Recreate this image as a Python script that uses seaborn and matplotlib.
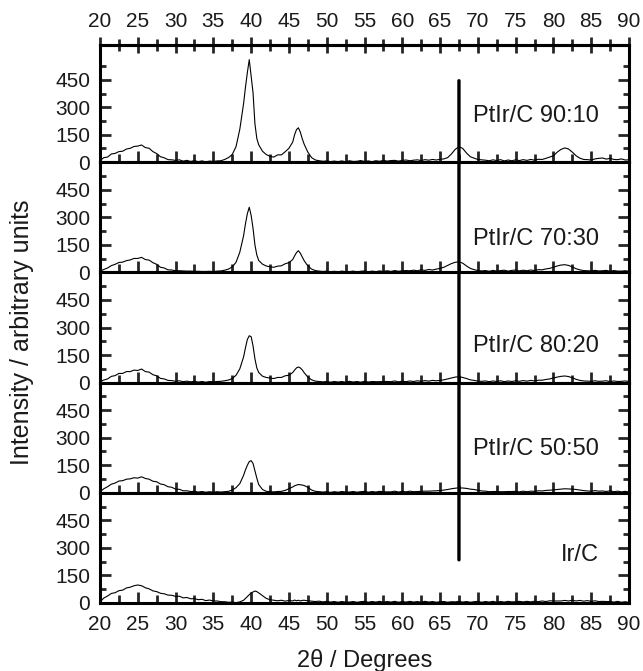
import numpy as np
import pandas as pd
import seaborn as sns
import matplotlib.pyplot as plt
from matplotlib.patches import ConnectionPatch
from matplotlib.ticker import MultipleLocator, FixedLocator

# 2theta positions (degrees), shared by all patterns
two_theta = [
    20.0, 20.5, 21.0, 21.5, 22.0, 22.5, 23.0, 23.5, 24.0, 24.5,
    25.0, 25.5, 26.0, 26.5, 27.0, 27.5, 28.0, 28.5, 29.0, 29.5,
    30.0, 30.5, 31.0, 31.5, 32.0, 32.5, 33.0, 33.5, 34.0, 34.5,
    35.0, 35.5, 36.0, 36.5, 37.0, 37.5, 38.0, 38.5, 39.0, 39.25,
    39.5, 39.75, 40.0, 40.25, 40.5, 40.75, 41.0, 41.5, 42.0, 42.5,
    43.0, 43.5, 44.0, 44.5, 45.0, 45.5, 45.75, 46.0, 46.25, 46.5,
    46.75, 47.0, 47.5, 48.0, 48.5, 49.0, 49.5, 50.0, 50.5, 51.0,
    51.5, 52.0, 52.5, 53.0, 53.5, 54.0, 54.5, 55.0, 55.5, 56.0,
    56.5, 57.0, 57.5, 58.0, 58.5, 59.0, 59.5, 60.0, 60.5, 61.0,
    61.5, 62.0, 62.5, 63.0, 63.5, 64.0, 64.5, 65.0, 65.5, 66.0,
    66.5, 67.0, 67.5, 68.0, 68.5, 69.0, 69.5, 70.0, 70.5, 71.0,
    71.5, 72.0, 72.5, 73.0, 73.5, 74.0, 74.5, 75.0, 75.5, 76.0,
    76.5, 77.0, 77.5, 78.0, 78.5, 79.0, 79.5, 80.0, 80.5, 81.0,
    81.5, 82.0, 82.5, 83.0, 83.5, 84.0, 84.5, 85.0, 85.5, 86.0,
    86.5, 87.0, 87.5, 88.0, 88.5, 89.0, 89.5, 90.0]

ptir_90_10 = [
    8, 25, 28, 45, 48, 58, 60, 72, 76, 86,
    88, 94, 80, 76, 58, 47, 30, 24, 14, 13,
    10, 13, 6, 10, 4, 9, 3, 7, 2, 6,
    4, 7, 8, 15, 25, 42, 85, 180, 320, 410,
    490, 560, 470, 380, 210, 130, 95, 60, 42, 32,
    28, 40, 40, 57, 76, 110, 150, 178, 188, 165,
    130, 100, 55, 25, 12, 8, 5, 7, 3, 6,
    3, 7, 2, 8, 4, 5, 9, 4, 7, 3,
    8, 5, 10, 6, 9, 10, 6, 10, 12, 8,
    11, 13, 9, 14, 11, 15, 12, 16, 18, 25,
    45, 70, 85, 75, 50, 30, 22, 15, 13, 11,
    8, 13, 9, 14, 7, 12, 8, 13, 9, 14,
    10, 15, 11, 16, 15, 21, 28, 35, 55, 70,
    78, 72, 55, 35, 22, 15, 14, 12, 18, 21,
    23, 17, 21, 15, 14, 18, 12, 13]

ptir_70_30 = [
    6, 16, 24, 37, 44, 54, 56, 64, 68, 76,
    76, 82, 70, 67, 53, 44, 28, 24, 14, 13,
    9, 9, 8, 7, 7, 6, 6, 5, 5, 6,
    4, 7, 8, 12, 18, 30, 55, 110, 200, 265,
    320, 355, 310, 240, 150, 95, 65, 45, 35, 30,
    28, 34, 36, 47, 53, 70, 90, 108, 118, 105,
    85, 65, 35, 18, 10, 7, 5, 7, 3, 6,
    3, 7, 4, 4, 7, 3, 6, 8, 3, 7,
    4, 8, 5, 9, 5, 10, 6, 9, 10, 9,
    12, 9, 14, 11, 16, 13, 18, 22, 28, 38,
    48, 55, 58, 50, 35, 22, 15, 10, 8, 10,
    6, 11, 7, 10, 12, 7, 11, 13, 8, 12,
    9, 13, 10, 15, 14, 19, 22, 28, 35, 40,
    42, 38, 30, 20, 14, 10, 9, 8, 11, 8,
    9, 11, 6, 10, 7, 7, 9, 6]

ptir_80_20 = [
    5, 14, 20, 34, 38, 50, 50, 60, 60, 68,
    66, 74, 60, 57, 43, 37, 23, 20, 12, 11,
    7, 10, 5, 8, 4, 7, 3, 6, 2, 6,
    4, 6, 7, 10, 14, 22, 40, 75, 140, 190,
    235, 255, 250, 200, 130, 80, 55, 35, 28, 25,
    22, 28, 28, 37, 40, 55, 68, 80, 85, 80,
    70, 55, 30, 15, 8, 6, 4, 6, 2, 6,
    3, 6, 2, 7, 3, 6, 2, 7, 3, 6,
    5, 5, 6, 6, 5, 9, 4, 8, 5, 9,
    6, 10, 7, 11, 8, 12, 10, 12, 15, 20,
    25, 30, 32, 28, 22, 15, 12, 8, 7, 9,
    5, 9, 6, 10, 5, 9, 6, 10, 7, 11,
    8, 12, 9, 13, 13, 17, 20, 25, 30, 34,
    36, 33, 26, 18, 12, 9, 8, 7, 10, 7,
    8, 10, 5, 9, 6, 7, 9, 6]

ptir_50_50 = [
    5, 22, 33, 47, 53, 64, 66, 74, 76, 82,
    80, 87, 78, 74, 63, 60, 48, 44, 33, 30,
    20, 19, 11, 11, 7, 8, 4, 7, 3, 6,
    3, 6, 4, 6, 8, 15, 28, 50, 95, 125,
    150, 170, 175, 160, 120, 80, 45, 18, 8, 6,
    5, 7, 8, 13, 22, 32, 38, 42, 45, 44,
    42, 40, 30, 15, 8, 6, 4, 6, 2, 6,
    3, 7, 4, 4, 7, 3, 6, 8, 3, 7,
    4, 8, 5, 5, 5, 9, 4, 8, 5, 9,
    6, 7, 8, 9, 9, 10, 11, 12, 15, 18,
    22, 25, 27, 26, 24, 20, 18, 14, 10, 9,
    6, 7, 7, 6, 6, 7, 7, 8, 5, 9,
    6, 9, 8, 11, 10, 13, 14, 16, 18, 20,
    22, 21, 20, 18, 15, 12, 10, 9, 12, 9,
    10, 7, 11, 6, 9, 5, 8, 4]

ir_c = [
    5, 27, 38, 52, 56, 67, 70, 82, 86, 94,
    98, 94, 83, 77, 66, 62, 53, 50, 43, 42,
    36, 37, 28, 30, 23, 24, 18, 20, 13, 16,
    11, 11, 7, 7, 4, 5, 2, 6, 15, 25,
    35, 45, 55, 60, 65, 62, 55, 40, 25, 18,
    15, 12, 15, 10, 14, 11, 16, 12, 15, 11,
    14, 15, 12, 10, 8, 10, 6, 9, 5, 8,
    4, 8, 5, 5, 8, 4, 7, 9, 4, 8,
    5, 9, 4, 8, 5, 9, 4, 8, 5, 9,
    5, 8, 4, 9, 5, 8, 4, 7, 8, 4,
    7, 6, 9, 5, 8, 4, 7, 9, 4, 8,
    5, 9, 4, 8, 5, 9, 6, 7, 9, 6,
    9, 6, 10, 7, 11, 8, 12, 11, 11, 11,
    14, 11, 15, 11, 14, 10, 13, 9, 12, 8,
    9, 8, 8, 5, 9, 4, 7, 3]

labels = ["PtIr/C 90:10", "PtIr/C 70:30", "PtIr/C 80:20", "PtIr/C 50:50", "Ir/C"]
label_y = [250, 180, 200, 237, 260]
series = [ptir_90_10, ptir_70_30, ptir_80_20, ptir_50_50, ir_c]
ymax = [640, 600, 600, 600, 600]
x_major = [20, 25, 30, 35, 40, 45, 50, 55, 60, 65, 70, 75, 80, 85, 90]

sns.set_style('ticks')
plt.rcParams['font.family'] = ['Liberation Sans', 'DejaVu Sans']
txt = '#1a1a1a'

fig = plt.figure(figsize=(6.43, 6.71), dpi=100)
gs = fig.add_gridspec(5, 1, height_ratios=[117, 110, 110, 110, 110], hspace=0,
                      left=100/643, right=629/643, top=1-45/671, bottom=1-603/671)
axes = [fig.add_subplot(gs[i]) for i in range(5)]

for i, ax in enumerate(axes):
    df = pd.DataFrame({'two_theta': two_theta, 'intensity': series[i]})
    sns.lineplot(data=df, x='two_theta', y='intensity', ax=ax, color='black', lw=0.8)
    ax.set_xlim(20, 90)
    ax.set_ylim(0, ymax[i])
    ax.set_xlabel('')
    ax.set_ylabel('')
    ax.xaxis.set_major_locator(FixedLocator(x_major))
    ax.xaxis.set_minor_locator(MultipleLocator(2.5))
    ax.yaxis.set_major_locator(FixedLocator([0, 150, 300, 450]))
    ax.yaxis.set_minor_locator(FixedLocator([75, 225, 375, 525]))
    ax.tick_params(axis='y', which='both', direction='in', left=True, right=True,
                   width=2, labelsize=15, labelcolor=txt, pad=7)
    ax.tick_params(axis='y', which='major', length=8)
    ax.tick_params(axis='y', which='minor', length=4)
    ax.tick_params(axis='x', which='both', direction='in', bottom=True, top=False,
                   labelbottom=(i == 4), width=2, labelsize=15, labelcolor=txt, pad=9)
    ax.tick_params(axis='x', which='major', length=8)
    ax.tick_params(axis='x', which='minor', length=6)
    for s in ax.spines.values():
        s.set_linewidth(2.2)
        s.set_color('black')
        s.set_visible(True)
    ax.text(86, label_y[i], labels[i], ha='right', va='center', fontsize=17, color=txt)

# top axis with crossing ticks
sec = axes[0].secondary_xaxis('top')
sec.xaxis.set_major_locator(FixedLocator(x_major))
sec.xaxis.set_minor_locator(MultipleLocator(2.5))
sec.tick_params(which='both', direction='inout', width=2, labelsize=15, labelcolor=txt, pad=4)
sec.tick_params(which='major', length=12)
sec.tick_params(which='minor', length=8)
sec.spines['top'].set_linewidth(2.2)

# vertical reference line at 67.5 deg across panels
con = ConnectionPatch(xyA=(67.5, 445), coordsA=axes[0].transData,
                      xyB=(67.5, 235), coordsB=axes[4].transData,
                      color='black', lw=2.4)
fig.add_artist(con)

fig.text(22/643, 1-332/671, 'Intensity / arbitrary units', rotation=90,
         ha='center', va='center', fontsize=18, color=txt)
fig.text(365/643, 1-660/671, '2θ / Degrees', ha='center', va='center',
         fontsize=17, color=txt)

fig.savefig('out.png', dpi=100)
